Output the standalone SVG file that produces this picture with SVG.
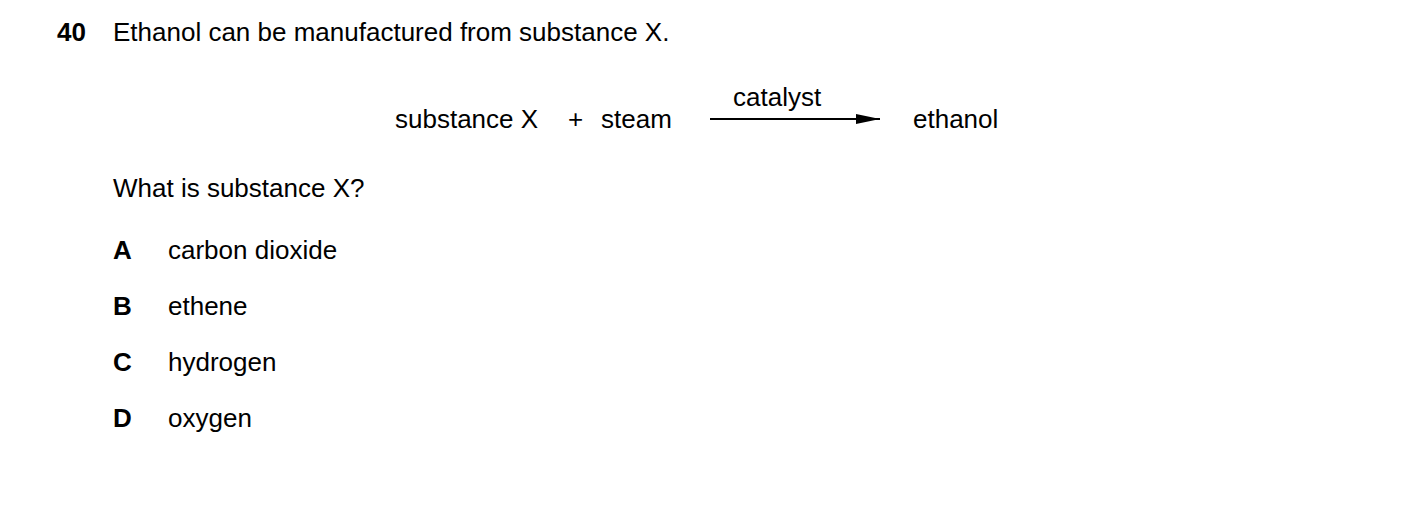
<svg xmlns="http://www.w3.org/2000/svg" width="1403" height="526" viewBox="0 0 1403 526">
<style>
text{font-family:"Liberation Sans",Arial,sans-serif;font-size:26px;fill:#000}
.b{font-weight:bold}
</style>
<defs><marker id="ah" markerWidth="24" markerHeight="10" refX="24" refY="5" orient="auto" markerUnits="userSpaceOnUse"><path d="M0,0 L24,5 L0,10 Z" fill="#000"/></marker></defs>
<rect width="1403" height="526" fill="#fff"/>
<text x="57" y="41" class="b">40</text>
<text x="113" y="41">Ethanol can be manufactured from substance X.</text>
<g id="reactants"><text x="395" y="128">substance X</text><text x="568" y="128">+</text><text x="601" y="128">steam</text></g>
<g id="product"><text x="913" y="128">ethanol</text></g>
<g id="connectors"><line x1="710" y1="119" x2="880" y2="119" stroke="#000" stroke-width="2" marker-end="url(#ah)"/><text x="733" y="106">catalyst</text></g>
<text x="113" y="197">What is substance X?</text>
<text x="113" y="259" class="b">A</text><text x="168" y="259">carbon dioxide</text>
<text x="113" y="315" class="b">B</text><text x="168" y="315">ethene</text>
<text x="113" y="371" class="b">C</text><text x="168" y="371">hydrogen</text>
<text x="113" y="427" class="b">D</text><text x="168" y="427">oxygen</text>
</svg>
